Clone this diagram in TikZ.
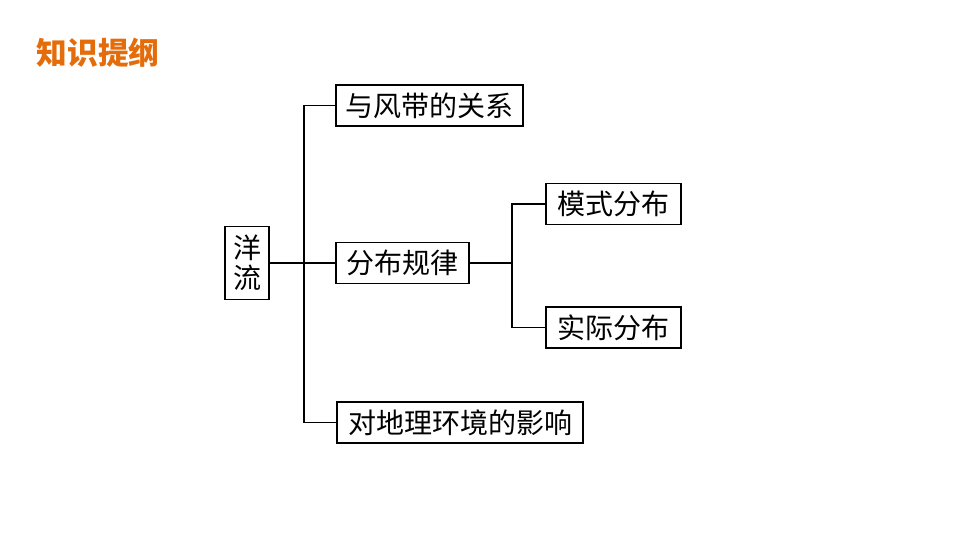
\documentclass[tikz,border=0pt]{standalone}
\usepackage{fontspec}
\newfontfamily\cjk{Noto Sans CJK SC}
\usepackage{xcolor}
\usetikzlibrary{positioning}
\definecolor{titleorange}{RGB}{228,108,10}

\begin{document}
\begin{tikzpicture}[x=0.75pt, y=-0.75pt,
  box/.style={rectangle, draw, line width=1.1pt, inner sep=0pt,
              minimum height=31pt,
              font=\cjk\fontsize{21}{22.5}\selectfont, align=center},
  link/.style={line width=1.1pt},
]
\useasboundingbox (0,0) rectangle (960,540);

% TITLE
\node[font=\cjk\bfseries\fontsize{23}{25}\selectfont, text=titleorange] (title) at (98,53) {知识提纲};

% ROOT
\node[box, minimum width=33pt, minimum height=54.75pt] (yl) at (247,263) {洋\\流};

% FIRST LEVEL
\node[box, minimum width=140.25pt] (rel) at (429.5,105.5) {与风带的关系};
\node[box, minimum width=99.75pt]  (fb)  at (402.5,263)   {分布规律};
\node[box, minimum width=184.5pt]  (yx)  at (460,422.5)   {对地理环境的影响};

% SECOND LEVEL
\node[box, minimum width=101.25pt] (ms) at (613.5,204)   {模式分布};
\node[box, minimum width=101.25pt] (sj) at (613.5,327.5) {实际分布};

% CONNECTORS
\coordinate (trunk)  at (304,263);
\coordinate (branch) at (512,263);
\draw[link] (yl.east) -- (fb.west);
\draw[link] (rel.west) -| (trunk) |- (yx.west);
\draw[link] (fb.east) -- (branch);
\draw[link] (ms.west) -| (branch) |- (sj.west);
\end{tikzpicture}
\end{document}
